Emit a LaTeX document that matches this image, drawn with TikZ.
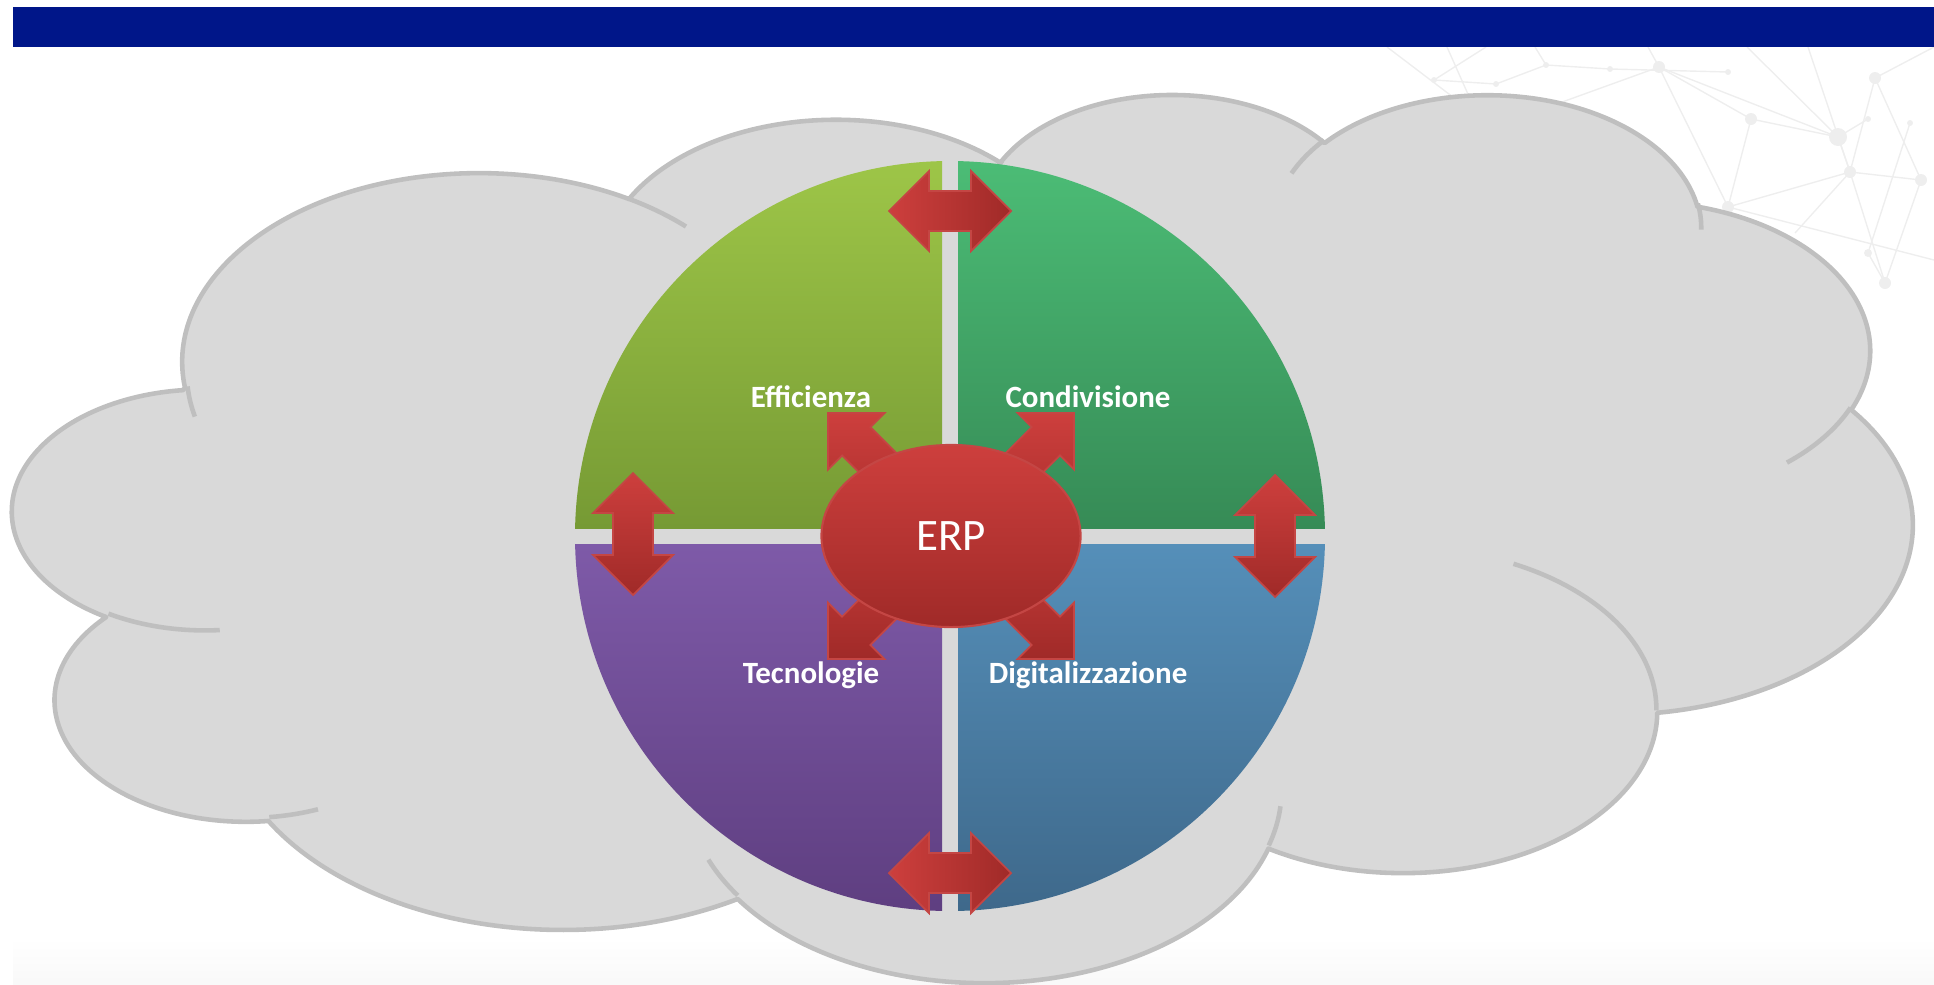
\documentclass[tikz,border=0pt]{standalone}
\usepackage{fontspec}
\setmainfont{Carlito}
\usetikzlibrary{shapes.geometric}

\definecolor{barblue}{RGB}{0,22,137}
\definecolor{cloudfill}{RGB}{217,217,217}
\definecolor{cloudline}{RGB}{191,191,191}
\definecolor{tltop}{RGB}{158,198,72}
\definecolor{tlbot}{RGB}{118,154,52}
\definecolor{trtop}{RGB}{76,189,118}
\definecolor{trbot}{RGB}{54,139,86}
\definecolor{bltop}{RGB}{126,90,168}
\definecolor{blbot}{RGB}{94,62,128}
\definecolor{brtop}{RGB}{85,143,185}
\definecolor{brbot}{RGB}{62,104,138}
\definecolor{arrlight}{RGB}{205,63,61}
\definecolor{arrdark}{RGB}{160,42,40}
\definecolor{arredge}{RGB}{196,70,68}

\begin{document}
\begin{tikzpicture}[x=0.01cm, y=-0.01cm,
  cloud/.style={fill=cloudfill, draw=cloudline, line width=1.3pt, line join=round},
  cloudarc/.style={draw=cloudline, line width=1.3pt},
  netline/.style={draw=gray!13, line width=0.4pt},
  netdot/.style={fill=gray!13},
  redarrow/.style={draw=arredge, line width=0.5pt},
  erpnode/.style={ellipse, minimum width=2.59cm, minimum height=1.82cm, inner sep=0pt,
    top color=arrlight, bottom color=arrdark, draw=arredge, line width=0.6pt,
    text=white, font=\fontsize{12.8}{14}\selectfont},
  lbl/.style={text=white, font=\bfseries\fontsize{8.8}{10}\selectfont, anchor=base, inner sep=0pt}]
\useasboundingbox (0,0) rectangle (1934,984);

% light band at the bottom of the slide
\shade[top color=white, bottom color=gray!5] (13,938) rectangle (1934,984);

% faint network in the top right corner
\coordinate (n1) at (1659,67);
\coordinate (n2) at (1751,119);
\coordinate (n3) at (1728,207);
\coordinate (n4) at (1838,137);
\coordinate (n5) at (1850,172);
\coordinate (n6) at (1921,180);
\coordinate (n7) at (1875,78);
\coordinate (n8) at (1885,283);
\coordinate (n9) at (1728,72);
\coordinate (n10) at (1868,119);
\coordinate (n11) at (1434,80);
\coordinate (n12) at (1496,84);
\coordinate (n13) at (1546,65);
\coordinate (n14) at (1610,69);
\coordinate (n15) at (1910,123);
\coordinate (n16) at (1868,253);
\draw[netline] (n1) -- (n2) -- (n4) -- (n5) -- (n6) -- (n7) -- (n5) -- (n8) -- (n6);
\draw[netline] (n1) -- (n3) -- (n5);
\draw[netline] (n1) -- (n4) -- (n10);
\draw[netline] (n2) -- (n3) -- (1700,300);
\draw[netline] (n1) -- (1540,110);
\draw[netline] (n1) -- (1648,47);
\draw[netline] (n7) -- (1934,47);
\draw[netline] (n5) -- (1795,233);
\draw[netline] (1747,47) -- (n4);
\draw[netline] (1808,47) -- (n5);
\draw[netline] (n9) -- (n14) -- (n13) -- (n12) -- (n11) -- (1486,47);
\draw[netline] (n13) -- (1535,47);
\draw[netline] (1387,47) -- (1470,110);
\draw[netline] (1447,47) -- (1475,110);
\draw[netline] (n15) -- (n16) -- (n8);
\draw[netline] (n3) -- (1934,260);
\foreach \p/\r in {n1/6,n2/6,n3/6,n4/9,n5/6,n6/6,n7/6,n8/6,n9/3,n10/3,n11/3,n12/3,n13/3,n14/3,n15/3,n16/4}
  \fill[netdot] (\p) circle[radius=\r];

% title bar
\fill[barblue] (13,7) rectangle (1934,47);

% cloud
\begin{scope}[shift={(13.5,92.1)}, xscale=43.95, yscale=20.55]
\filldraw[cloud] (3.900,14.370)
  arc[start angle=-187.745, end angle=-59.64, x radius=6.753, y radius=9.190]
  arc[start angle=-152.02, end angle=-45.46, x radius=5.333, y radius=7.267]
  arc[start angle=-153.49, end angle=-37.33, x radius=4.365, y radius=5.945]
  arc[start angle=-139.70, end angle=-10.21, x radius=4.857, y radius=6.595]
  arc[start angle=-74.77, end angle=23.21, x radius=5.333, y radius=7.273]
  arc[start angle=-37.52, end angle=81.86, x radius=6.775, y radius=9.220]
  arc[start angle=0.46, end angle=121.98, x radius=5.785, y radius=7.867]
  arc[start angle=16.84, end angle=146.24, x radius=6.752, y radius=9.215]
  arc[start angle=58.98, end angle=150.20, x radius=7.720, y radius=10.543]
  arc[start angle=-276.69, end angle=-136.88, x radius=4.360, y radius=5.918]
  arc[start angle=-239.65, end angle=-95.89, x radius=4.345, y radius=5.945]
  -- cycle;
\foreach \sx/\sy/\ta/\tb/\rx/\ry in {
    4.693/26.177/85.55/120.35/4.345/5.945,
    6.928/34.899/68.24/83.31/4.360/5.918,
    16.478/39.090/146.24/158.47/6.752/9.215,
    28.827/34.751/4.74/16.84/6.752/9.215,
    34.129/22.954/-64.03/0.46/5.785/7.867,
    41.798/15.354/23.21/49.63/5.333/7.273,
    38.324/5.426/-10.21/0.82/4.857/6.595,
    29.078/3.952/-156.28/-139.70/4.857/6.595,
    22.141/4.720/-167.73/-153.49/4.365/5.945,
    14.000/5.192/-59.64/-45.73/6.753/9.190,
    4.127/15.789/166.61/175.88/6.753/9.190}
  \draw[cloudarc] (\sx,\sy) arc[start angle=\ta, end angle=\tb, x radius=\rx, y radius=\ry];
\end{scope}

% four quarters of the disc
\begin{scope}
\clip (950,536) circle[radius=375];
\shade[top color=tltop, bottom color=tlbot] (570,156) rectangle (942,528);
\shade[top color=trtop, bottom color=trbot] (958,156) rectangle (1330,528);
\shade[top color=bltop, bottom color=blbot] (570,544) rectangle (942,916);
\shade[top color=brtop, bottom color=brbot] (958,544) rectangle (1330,916);
\end{scope}

% double arrows between the quarters
\foreach \cx/\cy in {950/211, 950/873}
  \shade[redarrow, left color=arrlight, right color=arrdark, shift={(\cx,\cy)}]
    (-61,0) -- (-21,-40) -- (-21,-20) -- (21,-20) -- (21,-40) -- (61,0)
    -- (21,40) -- (21,20) -- (-21,20) -- (-21,40) -- cycle;
\foreach \cx/\cy in {633/534, 1275/536}
  \shade[redarrow, top color=arrlight, bottom color=arrdark, shift={(\cx,\cy)}]
    (0,-61) -- (40,-21) -- (20,-21) -- (20,21) -- (40,21) -- (0,61)
    -- (-40,21) -- (-20,21) -- (-20,-21) -- (-40,-21) -- cycle;

% arrows from ERP to the quarters
\coordinate (erpc) at (951,536);
\foreach \ang in {135,45,225,-45}
  \shade[redarrow, top color=arrlight, bottom color=arrdark, shift={(erpc)}, rotate=\ang]
    (0,-20) -- (134,-20) -- (134,-40) -- (174,0) -- (134,40) -- (134,20) -- (0,20) -- cycle;

\node[erpnode] (erp) at (erpc) {ERP};

\node[lbl] (eff) at (811,407) {Efficienza};
\node[lbl] (cond) at (1088,407) {Condivisione};
\node[lbl] (tec) at (811,683) {Tecnologie};
\node[lbl] (dig) at (1088,683) {Digitalizzazione};
\end{tikzpicture}
\end{document}
